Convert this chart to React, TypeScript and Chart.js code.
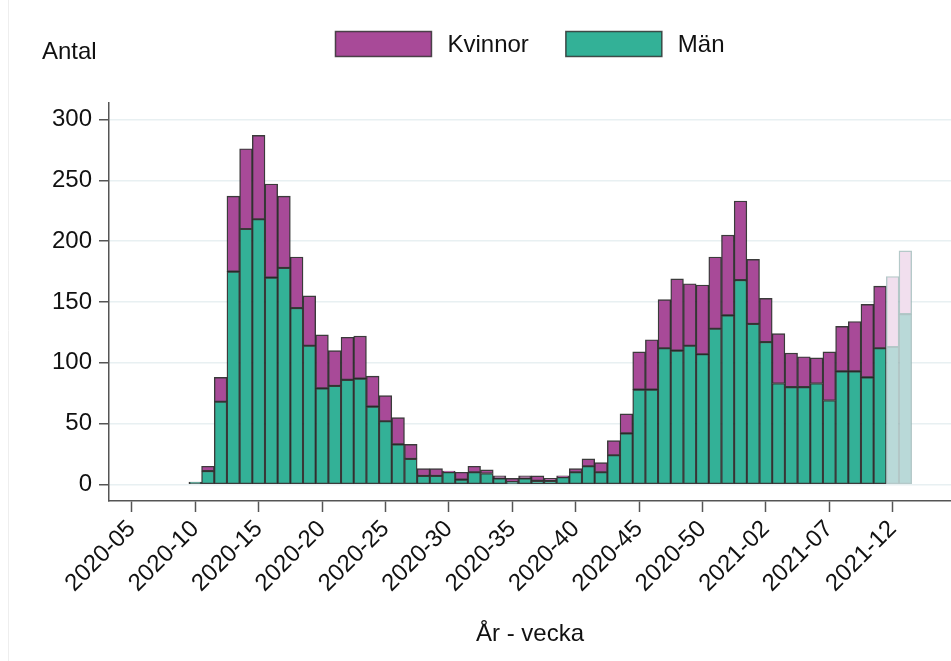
import React, { useEffect, useRef } from "react";
import { Chart, registerables } from "chart.js";

Chart.register(...registerables);

// ---- data ----
const weeks = [
  "2020-10", "2020-11", "2020-12", "2020-13", "2020-14", "2020-15", "2020-16", "2020-17", "2020-18", "2020-19",
  "2020-20", "2020-21", "2020-22", "2020-23", "2020-24", "2020-25", "2020-26", "2020-27", "2020-28", "2020-29",
  "2020-30", "2020-31", "2020-32", "2020-33", "2020-34", "2020-35", "2020-36", "2020-37", "2020-38", "2020-39",
  "2020-40", "2020-41", "2020-42", "2020-43", "2020-44", "2020-45", "2020-46", "2020-47", "2020-48", "2020-49",
  "2020-50", "2020-51", "2020-52", "2020-53", "2021-01", "2021-02", "2021-03", "2021-04", "2021-05", "2021-06",
  "2021-07", "2021-08", "2021-09", "2021-10", "2021-11", "2021-12", "2021-13",
];

const man = [
  2, 11, 68, 175, 210, 218, 170, 178, 145, 114,
  79, 81, 86, 87, 64, 52, 33, 21, 7, 7,
  10, 4, 10, 9, 5, 2, 5, 3, 3, 6,
  10, 15, 10, 24, 42, 78, 78, 112, 110, 114,
  107, 128, 139, 168, 132, 117, 83, 80, 80, 83,
  69, 93, 93, 88, 112, 113, 140,
];

const kvinnor = [
  0, 4, 20, 62, 66, 69, 77, 59, 42, 41,
  44, 29, 35, 35, 25, 21, 22, 12, 6, 6,
  1, 6, 5, 3, 2, 3, 2, 4, 2, 1,
  3, 6, 8, 12, 16, 31, 41, 40, 59, 51,
  57, 59, 66, 65, 53, 36, 41, 28, 25, 21,
  40, 37, 41, 60, 51, 58, 52,
];

// weeks with incomplete (preliminary) data, drawn faded
const preliminaryWeeks = ["2021-12", "2021-13"];

const tickLabels = [
  "2020-05", "2020-10", "2020-15", "2020-20", "2020-25", "2020-30", "2020-35",
  "2020-40", "2020-45", "2020-50", "2021-02", "2021-07", "2021-12",
];

const yTicks = [0, 50, 100, 150, 200, 250, 300];

const seriesNames = { kvinnor: "Kvinnor", man: "Män" };
const yTitle = "Antal";
const xTitle = "År - vecka";

// ---- styling ----
const FONT_FAMILY = "'Liberation Sans', Arial, Helvetica, sans-serif";
const FONT_SIZE = 24;
const TEXT = "#111111";
const AXIS = "#555555";
const GRID = "#E8F0F2";
const KV_COLOR = "#A84A98";
const MAN_COLOR = "#33B197";
const KV_FADED = "#F1DFEE";
const MAN_FADED = "#B9D9D8";
const BORDER = "rgba(25,25,25,0.85)";
const BORDER_FADED = "rgba(150,178,178,0.7)";

// ISO week -> position on the x axis (2020 has 53 weeks), origin at 2020-05
function weekIndex(label: string): number {
  const [y, w] = label.split("-").map(Number);
  return (y - 2020) * 53 + w - 5;
}

const X_MIN = -1.8;
const X_MAX = 64.6;

const overlayPlugin = {
  id: "overlay",
  beforeDraw(chart: any) {
    const ctx = chart.ctx;
    ctx.save();
    ctx.strokeStyle = "#EEEEEE";
    ctx.lineWidth = 1;
    ctx.beginPath();
    ctx.moveTo(8.5, 0);
    ctx.lineTo(8.5, chart.height);
    ctx.stroke();
    ctx.restore();
  },
  afterDraw(chart: any) {
    const ctx = chart.ctx;
    const area = chart.chartArea;
    const cx = (area.left + area.right) / 2;
    ctx.save();
    ctx.font = `${FONT_SIZE}px ${FONT_FAMILY}`;
    ctx.fillStyle = TEXT;
    ctx.textBaseline = "alphabetic";

    // y title
    ctx.textAlign = "left";
    ctx.fillText(yTitle, 42, 59);

    // legend
    const items = [
      { label: seriesNames.kvinnor, color: KV_COLOR },
      { label: seriesNames.man, color: MAN_COLOR },
    ];
    const boxW = 96, boxH = 25, gapText = 16, gapItem = 37;
    const widths = items.map((it) => boxW + gapText + ctx.measureText(it.label).width);
    const total = widths.reduce((a, b) => a + b, 0) + gapItem * (items.length - 1);
    let x = cx - total / 2;
    const boxTop = 31.5;
    items.forEach((it, i) => {
      ctx.fillStyle = it.color;
      ctx.fillRect(x, boxTop, boxW, boxH);
      ctx.strokeStyle = "rgba(40,40,40,0.8)";
      ctx.lineWidth = 1.5;
      ctx.strokeRect(x, boxTop, boxW, boxH);
      ctx.fillStyle = TEXT;
      ctx.textAlign = "left";
      ctx.textBaseline = "middle";
      ctx.fillText(it.label, x + boxW + gapText, boxTop + boxH / 2 + 1);
      x += widths[i] + gapItem;
    });

    // x title
    ctx.textAlign = "center";
    ctx.textBaseline = "middle";
    ctx.fillStyle = TEXT;
    ctx.fillText(xTitle, cx, 634);
    ctx.restore();
  },
};

export default function App() {
  const canvasRef = useRef<HTMLCanvasElement | null>(null);

  useEffect(() => {
    document.body.style.margin = "0";
    const canvas = canvasRef.current;
    if (!canvas) return;

    const isPrelim = weeks.map((w) => preliminaryWeeks.includes(w));
    const manData = weeks.map((w, i) => ({ x: weekIndex(w), y: man[i] }));
    const kvData = weeks.map((w, i) => ({ x: weekIndex(w), y: kvinnor[i] }));
    const font = { family: FONT_FAMILY, size: FONT_SIZE };

    const chart = new Chart(canvas, {
      type: "bar",
      data: {
        datasets: [
          {
            label: seriesNames.man,
            data: manData,
            backgroundColor: isPrelim.map((p) => (p ? MAN_FADED : MAN_COLOR)),
            borderColor: isPrelim.map((p) => (p ? BORDER_FADED : BORDER)),
            borderWidth: 1.4,
            borderSkipped: false,
            barPercentage: 1,
            categoryPercentage: 1,
          },
          {
            label: seriesNames.kvinnor,
            data: kvData,
            backgroundColor: isPrelim.map((p) => (p ? KV_FADED : KV_COLOR)),
            borderColor: isPrelim.map((p) => (p ? BORDER_FADED : BORDER)),
            borderWidth: 1.4,
            borderSkipped: false,
            barPercentage: 1,
            categoryPercentage: 1,
          },
        ],
      },
      options: {
        responsive: false,
        animation: false,
        layout: { padding: { top: 103, left: 0, right: 0, bottom: 0 } },
        plugins: {
          legend: { display: false },
          tooltip: { enabled: false },
        },
        scales: {
          x: {
            type: "linear",
            stacked: true,
            offset: false,
            min: X_MIN,
            max: X_MAX,
            afterBuildTicks: (s: any) => {
              s.ticks = tickLabels.map((l) => ({ value: weekIndex(l) }));
            },
            afterFit: (s: any) => {
              s.height = 160;
              s.paddingLeft = 0;
              s.paddingRight = 0;
            },
            ticks: {
              autoSkip: false,
              maxRotation: 45,
              minRotation: 45,
              padding: 3,
              font,
              color: TEXT,
              callback: (v: any) => {
                const found = tickLabels.find((l) => weekIndex(l) === v);
                return found ?? "";
              },
            },
            grid: {
              offset: false,
              drawOnChartArea: false,
              drawTicks: true,
              tickLength: 11,
              tickColor: AXIS,
              tickWidth: 1.5,
            },
            border: { color: AXIS, width: 1.5 },
          },
          y: {
            stacked: true,
            min: -13.6,
            max: 313.6,
            afterBuildTicks: (s: any) => {
              s.ticks = yTicks.map((v) => ({ value: v }));
            },
            afterFit: (s: any) => {
              s.width = 109;
            },
            ticks: { padding: 7, font, color: TEXT },
            grid: {
              color: GRID,
              lineWidth: 1.5,
              tickColor: AXIS,
              tickLength: 10,
              tickWidth: 1.5,
            },
            border: { color: AXIS, width: 1.5 },
          },
        },
      } as any,
      plugins: [overlayPlugin],
    });

    return () => chart.destroy();
  }, []);

  return <canvas ref={canvasRef} width={951} height={661} style={{ display: "block" }} />;
}
